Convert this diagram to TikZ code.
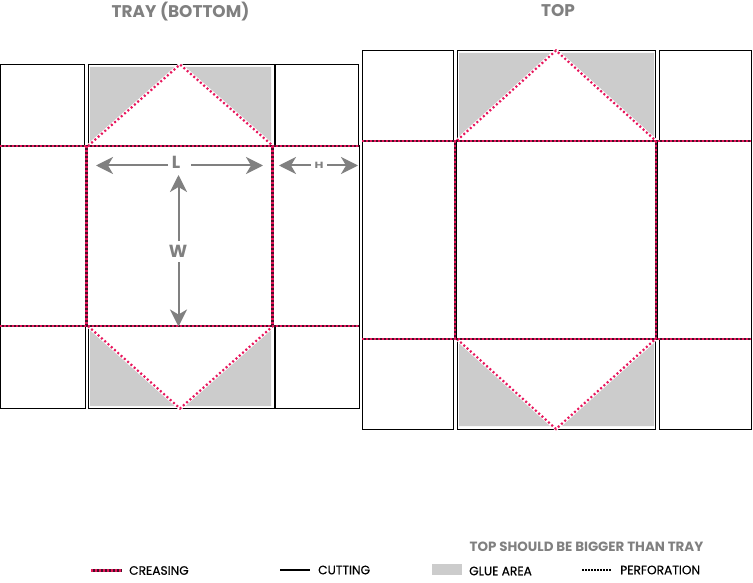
\documentclass[tikz,border=0pt]{standalone}
\usepackage{fontspec}
\setmainfont{Poppins}
\newfontface\medfont{Poppins}[FakeBold=0.35]
\usetikzlibrary{arrows.meta}
\definecolor{pinkdot}{HTML}{E8175D}
\definecolor{crease}{HTML}{4A1028}
\definecolor{glue}{HTML}{CCCCCC}
\definecolor{labelgray}{HTML}{808080}
\tikzset{
  x=1pt,y=-1pt,
  cutline/.style={draw=black,line width=1pt},
  gluefill/.style={fill=glue,draw=none},
  creasebase/.style={draw=crease,line width=2.2pt},
  creasedots/.style={draw=pinkdot,line width=2.2pt,dash pattern=on 2pt off 2pt},
  perfhalo/.style={draw=white,line width=3.4pt},
  perfdots/.style={draw=pinkdot,line width=2.2pt,dash pattern=on 2pt off 2.4pt},
  dimarrow/.style={draw=labelgray,line width=2pt,-{Stealth[length=17pt,width=17pt,inset=5pt]}},
  dimtext/.style={text=labelgray,font=\fontsize{17.5}{18}\selectfont\bfseries,inner sep=0pt},
  titletext/.style={text=labelgray,font=\fontsize{16.9}{17}\selectfont\bfseries,inner sep=0pt},
  legendtext/.style={text=black,font=\fontsize{12.2}{12}\medfont,inner sep=0pt,anchor=west},
}
\begin{document}
\begin{tikzpicture}
\useasboundingbox (0,0) rectangle (753,583);
\fill[white] (0,0) rectangle (753,583);

% ---------- TRAY ----------
\fill[gluefill] (90,67) -- (178,67) -- (90,143) -- cycle;
\fill[gluefill] (183,67) -- (271,67) -- (271,143) -- cycle;
\fill[gluefill] (90,330) -- (178,406) -- (90,406) -- cycle;
\fill[gluefill] (271,330) -- (271,406) -- (183,406) -- cycle;

\draw[cutline] (0.5,64.5) rectangle (84.5,146);
\draw[cutline] (88,64.5) rectangle (274,146);
\draw[cutline] (275.5,64.5) rectangle (358.5,146);
\draw[cutline] (0.5,146) rectangle (87,326);
\draw[cutline] (273.5,146) rectangle (359.5,326);
\draw[cutline] (0.5,326) rectangle (85,408.5);
\draw[cutline] (88,326) rectangle (274,408.5);
\draw[cutline] (275.5,326) rectangle (359,408.5);

\draw[perfhalo] (88,146) -- (180,64.5) -- (273,146);
\draw[perfhalo] (88,326) -- (180,408.5) -- (273,326);
\draw[perfdots] (88,146) -- (180,64.5) -- (273,146);
\draw[perfdots] (88,326) -- (180,408.5) -- (273,326);

\draw[creasebase] (0,146.3) -- (359,146.3);
\draw[creasebase] (0,326.3) -- (359,326.3);
\draw[creasebase] (86.5,146.3) -- (86.5,326.3);
\draw[creasebase] (272.4,146.3) -- (272.4,326.3);
\draw[creasedots] (0,146.3) -- (359,146.3);
\draw[creasedots] (0,326.3) -- (359,326.3);
\draw[creasedots] (86.5,146.3) -- (86.5,326.3);
\draw[creasedots] (272.4,146.3) -- (272.4,326.3);

% ---------- TOP ----------
\fill[gluefill] (459,53) -- (553,53) -- (459,137) -- cycle;
\fill[gluefill] (559,53) -- (654,53) -- (654,137) -- cycle;
\fill[gluefill] (459,343) -- (552,426) -- (459,426) -- cycle;
\fill[gluefill] (654,343) -- (654,426) -- (560,426) -- cycle;

\draw[cutline] (362.5,51) rectangle (453,140.5);
\draw[cutline] (457,51) rectangle (655.8,140.5);
\draw[cutline] (659,51) rectangle (751,140.5);
\draw[cutline] (362.5,140.5) rectangle (456,339);
\draw[cutline] (657,140.5) rectangle (751,339);
\draw[cutline] (362.5,339) rectangle (453.5,429);
\draw[cutline] (457,339) rectangle (655.8,429);
\draw[cutline] (659.5,339) rectangle (751,429);

\draw[perfhalo] (457,140.5) -- (556,50.5) -- (655.5,140.5);
\draw[perfhalo] (457,339) -- (556,429) -- (655.5,339);
\draw[perfdots] (457,140.5) -- (556,50.5) -- (655.5,140.5);
\draw[perfdots] (457,339) -- (556,429) -- (655.5,339);

\draw[creasebase] (362,140.7) -- (751,140.7);
\draw[creasebase] (362,339) -- (751,339);
\draw[creasebase] (455.2,140.7) -- (455.2,339);
\draw[creasebase] (656.3,140.7) -- (656.3,339);
\draw[creasedots] (362,140.7) -- (751,140.7);
\draw[creasedots] (362,339) -- (751,339);
\draw[creasedots] (455.2,140.7) -- (455.2,339);
\draw[creasedots] (656.3,140.7) -- (656.3,339);

% ---------- Dimensions ----------
\node[dimtext] (lenL) at (176,162) {L};
\coordinate (lenA) at (96,165.5);
\coordinate (lenB) at (263,165.5);
\coordinate (lenC) at (168,165.5);
\coordinate (lenD) at (191,165.5);
\draw[dimarrow] (lenC) -- (lenA);
\draw[dimarrow] (lenD) -- (lenB);

\node[dimtext] (widW) at (178,251) {W};
\coordinate (widA) at (178.5,175);
\coordinate (widB) at (178.5,326.5);
\coordinate (widC) at (178.5,241);
\coordinate (widD) at (178.5,262);
\draw[dimarrow] (widC) -- (widA);
\draw[dimarrow] (widD) -- (widB);

\node[text=labelgray,font=\fontsize{9}{9}\selectfont\bfseries,inner sep=0pt,xscale=1.35] (hgtH) at (319,165.5) {H};
\coordinate (hgtA) at (279,165.5);
\coordinate (hgtB) at (358,165.5);
\coordinate (hgtC) at (311,165.5);
\coordinate (hgtD) at (327,165.5);
\draw[dimarrow] (hgtC) -- (hgtA);
\draw[dimarrow] (hgtD) -- (hgtB);

% ---------- Titles ----------
\node[titletext] (trayTitle) at (180.5,11.5) {TRAY (BOTTOM)};
\node[titletext] (topTitle) at (558,10.5) {TOP};
\node[text=labelgray,font=\fontsize{13.4}{14}\selectfont\bfseries,inner sep=0pt] (note) at (586.5,547) {TOP SHOULD BE BIGGER THAN TRAY};

% ---------- Legend ----------
\coordinate (lgA1) at (91,570.5);
\coordinate (lgA2) at (122,570.5);
\draw[creasebase] (lgA1) -- (lgA2);
\draw[creasedots] (lgA1) -- (lgA2);
\node[legendtext] (lgCrease) at (129,570.5) {CREASING};

\coordinate (lgB1) at (280,570);
\coordinate (lgB2) at (310,570);
\draw[cutline,line width=1.3pt] (lgB1) -- (lgB2);
\node[legendtext] (lgCut) at (318,570) {CUTTING};

\fill[glue] (432,564) rectangle (462,575);
\node[legendtext] (lgGlue) at (469,571) {GLUE AREA};

\coordinate (lgC1) at (582,570);
\coordinate (lgC2) at (612,570);
\draw[draw=black,line width=1.3pt,dash pattern=on 1.5pt off 1.5pt] (lgC1) -- (lgC2);
\node[legendtext] (lgPerf) at (620,570) {PERFORATION};
\end{tikzpicture}
\end{document}
